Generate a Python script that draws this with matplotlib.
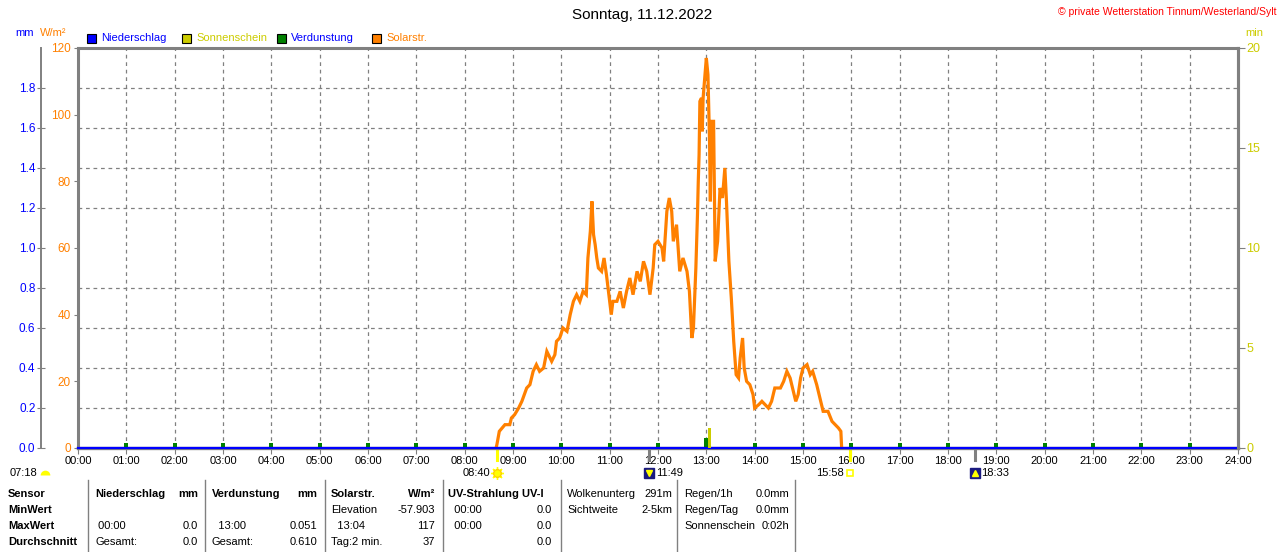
import matplotlib
matplotlib.use("Agg")
import matplotlib.pyplot as plt
from matplotlib.lines import Line2D
from matplotlib.patches import Rectangle
from matplotlib.ticker import MultipleLocator

plt.rcParams['font.family'] = ['Liberation Sans', 'DejaVu Sans']

W, H = 1280, 552

# solar radiation (W/m²), time in minutes after midnight
solar_minutes = [519, 520, 523, 530, 536, 538, 542, 547, 551, 557, 561, 565, 569, 573,
                 578, 582, 588, 592, 594, 598, 602, 607, 611, 615, 619, 623, 627, 631,
                 633, 636, 638, 640, 642, 644, 646, 650, 653, 656, 659, 662, 664, 669,
                 673, 677, 681, 685, 689, 694, 698, 702, 706, 710, 714, 716, 720, 725,
                 727, 731, 734, 737, 739, 743, 745, 747, 751, 756, 759, 762, 764, 767,
                 769, 770, 771, 772, 774, 775, 776, 778, 780, 782, 783, 784, 785, 786,
                 787, 789, 791, 794, 797, 800, 803, 805, 808, 811, 814, 817, 820, 822,
                 825, 827, 830, 834, 838, 840, 845, 849, 853, 857, 861, 865, 872, 876,
                 880, 884, 888, 891, 894, 897, 900, 905, 909, 912, 917, 921, 925, 931,
                 936, 940, 944, 947, 948]
solar_values = [0, 1, 5, 7, 7, 9, 10, 12, 14, 18, 19, 23, 25, 23,
                24, 29, 26, 28, 32, 33, 36, 35, 40, 44, 46, 44, 47, 46,
                57, 65, 74, 64, 61, 57, 54, 53, 57, 52, 46, 40, 44, 44,
                47, 42, 47, 51, 46, 53, 50, 56, 53, 46, 54, 61, 62, 60,
                56, 71, 75, 71, 62, 67, 60, 53, 57, 53, 47, 33, 36, 54,
                70, 80, 88, 104, 105, 95, 105, 111, 117, 112, 102, 92, 74, 92,
                98, 98, 56, 62, 78, 75, 84, 74, 56, 45, 32, 22, 21, 27,
                33, 24, 20, 19, 16, 12, 13, 14, 13, 12, 14, 18, 18, 20,
                23, 21, 17, 14, 16, 21, 24, 25, 22, 23, 19, 15, 11, 11,
                8, 7, 6, 5, 0]

# evaporation per hour (mm)
evap_hours = list(range(1, 24))
evap_values = [0.025] * 12 + [0.051] + [0.025] * 10

# precipitation per hour (mm)
rain_hours = list(range(0, 25))
rain_values = [0.0] * 25

# sunshine (min)
sun_times = [13 + 4 / 60]
sun_values = [1.0]

# sun / moon events
sunrise, sunset = 8 + 40 / 60, 15 + 58 / 60
moonset, moonrise = 11 + 49 / 60, 18 + 33 / 60

hour_labels = [f"{h:02d}:00" for h in range(25)]
mm_ticks = [0.0, 0.2, 0.4, 0.6, 0.8, 1.0, 1.2, 1.4, 1.6, 1.8]
solar_ticks = [0, 20, 40, 60, 80, 100, 120]
min_ticks = [0, 5, 10, 15, 20]

GRAY = '#808080'
BLUE = '#0000FF'
ORANGE = '#FF8000'
OLIVE = '#CCCC00'
GREEN = '#008000'


def fx(x):
    return x / W


def fy(y):
    return 1 - y / H


fig = plt.figure(figsize=(W / 100, H / 100), dpi=100)
ax = fig.add_axes([fx(78), fy(448), 1160 / W, 400 / H])

# main axis: solar radiation
ax.set_xlim(0, 24)
ax.set_ylim(0, 120)
ax.set_xticks(range(25))
ax.set_xticklabels(hour_labels)
ax.set_yticks(solar_ticks)
ax.yaxis.set_minor_locator(MultipleLocator(12))
ax.tick_params(axis='y', which='minor', length=0)
ax.tick_params(axis='y', which='major', length=3, color=GRAY, pad=2,
               labelsize=8.5, labelcolor=ORANGE)
ax.tick_params(axis='x', length=4, color=GRAY, pad=2, labelsize=8)
ax.grid(which='minor', axis='y', color=GRAY, linestyle=(0, (3, 3)), linewidth=0.9)
ax.grid(which='major', axis='x', color=GRAY, linestyle=(0, (3, 3)), linewidth=0.9)
for s in ['top', 'left', 'right']:
    ax.spines[s].set_color(GRAY)
    ax.spines[s].set_linewidth(2.2)
ax.spines['bottom'].set_color(GRAY)
ax.spines['bottom'].set_linewidth(2.4)

ax.plot([m / 60 for m in solar_minutes], solar_values, color=ORANGE, lw=2.3,
        solid_joinstyle='miter', zorder=3)

# mm axis, outer left
ax_mm = ax.twinx()
ax_mm.set_ylim(0, 2)
ax_mm.yaxis.tick_left()
ax_mm.set_yticks(mm_ticks)
ax_mm.set_yticklabels([f"{v:.1f}" for v in mm_ticks])
ax_mm.tick_params(axis='y', length=6, direction='inout', color=GRAY, pad=1,
                  labelsize=8.5, labelcolor=BLUE)
ax_mm.spines['left'].set_position(('outward', 37 * 0.72))
ax_mm.spines['left'].set_visible(True)
ax_mm.spines['left'].set_color(GRAY)
ax_mm.spines['left'].set_linewidth(1.4)
for s in ['top', 'right', 'bottom']:
    ax_mm.spines[s].set_visible(False)
ax_mm.bar(evap_hours, evap_values, width=0.08, color=GREEN, zorder=3)
ax_mm.plot(rain_hours, rain_values, color=BLUE, lw=1.6, clip_on=False, zorder=4)

# sunshine minutes, right axis
ax_min = ax.twinx()
ax_min.set_ylim(0, 20)
ax_min.set_yticks(min_ticks)
ax_min.tick_params(axis='y', length=5, color=GRAY, pad=1, labelsize=9, labelcolor=OLIVE)
for s in ['top', 'left', 'bottom']:
    ax_min.spines[s].set_visible(False)
ax_min.spines['right'].set_color(GRAY)
ax_min.spines['right'].set_linewidth(2.2)
ax_min.bar(sun_times, sun_values, width=0.06, color=OLIVE, zorder=3)

# sun / moon markers below the axis
xt = ax.get_xaxis_transform()
for t, c in [(sunrise, '#FFFF00'), (sunset, '#FFFF00'), (moonset, GRAY), (moonrise, GRAY)]:
    ax.plot([t, t], [0, -0.03], color=c, lw=2.2, transform=xt, clip_on=False)

ylab = -0.0625
ax.annotate("08:40", (sunrise, ylab), xycoords=xt, xytext=(-4.5, 0), textcoords='offset points',
            ha='right', va='center', fontsize=8)
ax.plot([sunrise], [ylab], transform=xt, marker=(8, 2, 0), ms=9, color='#FFFF00', mew=1, clip_on=False)
ax.plot([sunrise], [ylab], transform=xt, marker='o', ms=5.5, color='#FFFF00', mec='#FFD000', clip_on=False)

ax.annotate("15:58", (sunset, ylab), xycoords=xt, xytext=(-4.5, 0), textcoords='offset points',
            ha='right', va='center', fontsize=8)
ax.plot([sunset], [ylab], transform=xt, marker='s', ms=5, mfc='white', mec='#FFFF00', mew=1.2, clip_on=False)

ax.annotate("11:49", (moonset, ylab), xycoords=xt, xytext=(5, 0), textcoords='offset points',
            ha='left', va='center', fontsize=8)
ax.plot([moonset], [ylab], transform=xt, marker='s', ms=7, color='#1A1A80', clip_on=False)
ax.plot([moonset], [ylab], transform=xt, marker='v', ms=4, color='#FFFF00', clip_on=False)

ax.annotate("18:33", (moonrise, ylab), xycoords=xt, xytext=(5, 0), textcoords='offset points',
            ha='left', va='center', fontsize=8)
ax.plot([moonrise], [ylab], transform=xt, marker='s', ms=7, color='#1A1A80', clip_on=False)
ax.plot([moonrise], [ylab], transform=xt, marker='^', ms=4, color='#FFFF00', clip_on=False)

fig.text(fx(10), fy(473), "07:18", fontsize=8, ha='left', va='center')
fig.add_artist(Line2D([fx(45)], [fy(475)], marker='o', ms=7, fillstyle='top',
                      mfc='#FFFF00', mec='none', transform=fig.transFigure))

# header texts
fig.text(fx(642), fy(15), "Sonntag, 11.12.2022", fontsize=11, ha='center', va='center')
fig.text(fx(1276), fy(12), "© private Wetterstation Tinnum/Westerland/Sylt", fontsize=7.5,
         color='#FF0000', ha='right', va='center')
fig.text(fx(15), fy(33), "mm", fontsize=8, color=BLUE, va='center')
fig.text(fx(40), fy(33), "W/m²", fontsize=8, color=ORANGE, va='center')
fig.text(fx(1245), fy(33), "min", fontsize=8, color=OLIVE, va='center')

legend_items = [("Niederschlag", BLUE, BLUE, 87),
                ("Sonnenschein", OLIVE, OLIVE, 182),
                ("Verdunstung", GREEN, BLUE, 277),
                ("Solarstr.", ORANGE, ORANGE, 372)]
for name, fc, tc, x0 in legend_items:
    fig.add_artist(Rectangle((fx(x0), fy(43)), 9 / W, 9 / H, facecolor=fc, edgecolor='black',
                             lw=0.8, transform=fig.transFigure))
    fig.text(fx(x0 + 14), fy(38), name, fontsize=8, color=tc, va='center')

# summary table at the bottom
row_y = [494, 510, 526, 542]
row_names = ["Sensor", "MinWert", "MaxWert", "Durchschnitt"]
for y, s in zip(row_y, row_names):
    fig.text(fx(8), fy(y), s, fontsize=8, fontweight='bold', va='center')

sep_x = [88, 205, 325, 443, 561, 677, 795]
for x in sep_x:
    fig.add_artist(Line2D([fx(x), fx(x)], [fy(480), 0], color=GRAY, lw=1, transform=fig.transFigure))

# (header, unit, left column texts, right column texts, left x, right x)
table_cols = [
    ("Niederschlag", "mm", ["", " 00:00", "Gesamt:"], ["", "0.0", "0.0"], 95, 198),
    ("Verdunstung", "mm", ["", "  13:00", "Gesamt:"], ["", "0.051", "0.610"], 212, 317),
    ("Solarstr.", "W/m²", ["Elevation", "  13:04", "Tag:2 min."], ["-57.903", "117", "37"], 331, 435),
    ("UV-Strahlung UV-I", "", ["  00:00", "  00:00", ""], ["0.0", "0.0", "0.0"], 448, 552),
]
for head, unit, lefts, rights, xl, xr in table_cols:
    fig.text(fx(xl), fy(row_y[0]), head, fontsize=8, fontweight='bold', va='center')
    if unit:
        fig.text(fx(xr), fy(row_y[0]), unit, fontsize=8, fontweight='bold', va='center', ha='right')
    for y, s in zip(row_y[1:], lefts):
        fig.text(fx(xl), fy(y), s, fontsize=8, va='center')
    for y, s in zip(row_y[1:], rights):
        fig.text(fx(xr), fy(y), s, fontsize=8, va='center', ha='right')

extra_cols = [
    (["Wolkenunterg", "Sichtweite"], ["291m", "2-5km"], 567, 672),
    (["Regen/1h", "Regen/Tag", "Sonnenschein"], ["0.0mm", "0.0mm", "0:02h"], 684, 789),
]
for lefts, rights, xl, xr in extra_cols:
    for y, s in zip(row_y, lefts):
        fig.text(fx(xl), fy(y), s, fontsize=8, va='center')
    for y, s in zip(row_y, rights):
        fig.text(fx(xr), fy(y), s, fontsize=8, va='center', ha='right')

fig.savefig("out.png", dpi=100)
